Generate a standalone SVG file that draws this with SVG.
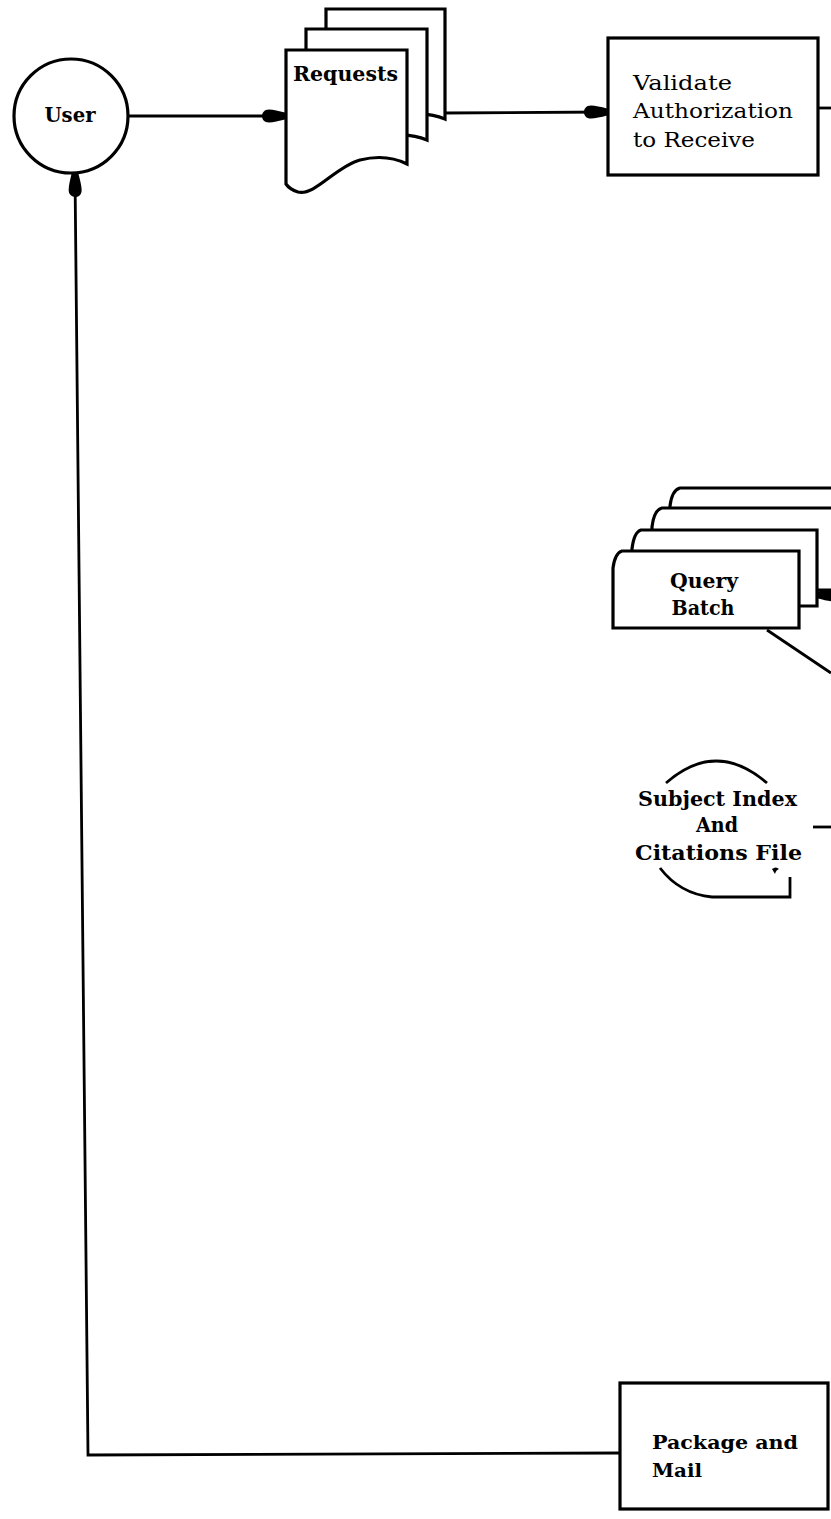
<svg xmlns="http://www.w3.org/2000/svg" width="831" height="1519" viewBox="0 0 831 1519">
<style>
.ln{fill:none;stroke:#000;stroke-width:2.8;stroke-linejoin:miter}
.bx{fill:#fff;stroke:#000;stroke-width:3.2}
.b{font-family:"DejaVu Serif","Liberation Serif",serif;font-weight:bold;font-size:20px;fill:#000}
.r{font-family:"DejaVu Serif","Liberation Serif",serif;font-size:20px;fill:#000}
</style>
<defs>
<marker id="arr" markerUnits="userSpaceOnUse" markerWidth="30" markerHeight="20" refX="0" refY="0" orient="auto-start-reverse" overflow="visible">
<path d="M0,-3.5 L0,3.5 C-6,5 -12,6.5 -16,6.5 C-21,6.5 -23,3 -23,0 C-23,-3 -21,-6.5 -16,-6.5 C-12,-6.5 -6,-5 0,-3.5 Z" fill="#000"/>
</marker>
</defs>
<rect width="831" height="1519" fill="#fff"/>
<g id="connectors">
<path class="ln" d="M128,116 L285,116" marker-end="url(#arr)"/>
<path class="ln" d="M445,113 L607,112" marker-end="url(#arr)"/>
<path class="ln" d="M818,108 L831,108"/>
<path class="ln" d="M831,595 L818,595" marker-end="url(#arr)"/>
<path class="ln" d="M767,630 L831,673"/>
<path class="ln" d="M813,827 L831,827"/>
<path class="ln" d="M75,174 L88,1455 L620,1453" marker-start="url(#arr)"/>
</g>
<g id="user">
<circle class="bx" cx="71" cy="116" r="57"/>
<text class="b" x="70" y="122" text-anchor="middle" textLength="51" lengthAdjust="spacingAndGlyphs">User</text>
</g>
<g id="requests">
<path class="bx" d="M326,9 H445 V119 C433,114 418,112 400,117 C375,124 355,153 338,150 C332,149 328,146 326,142 Z"/>
<path class="bx" d="M306,29 H427 V140 C415,135 400,133 380,138 C355,145 335,174 318,171 C312,170 308,167 306,163 Z"/>
<path class="bx" d="M286,50 H407 V164 C395,158 380,155 360,160 C335,167 315,196 298,192 C292,190 288,187 286,184 Z"/>
<text class="b" x="293" y="81" textLength="105" lengthAdjust="spacingAndGlyphs">Requests</text>
</g>
<g id="validate">
<rect class="bx" x="608" y="38" width="210" height="137"/>
<text class="r" x="633" y="90" textLength="99" lengthAdjust="spacingAndGlyphs">Validate</text>
<text class="r" x="633" y="118" textLength="160" lengthAdjust="spacingAndGlyphs">Authorization</text>
<text class="r" x="633" y="147" textLength="122" lengthAdjust="spacingAndGlyphs">to Receive</text>
</g>
<g id="query-batch">
<path class="bx" d="M670,570 L670,506 Q672,490 680,488 L845,488 L845,570 Z"/>
<path class="bx" d="M652,590 L652,527 Q654,510 662,508 L845,508 L845,590 Z"/>
<path class="bx" d="M632,606 L632,549 Q634,532 641,530 L817,530 L817,606 Z"/>
<path class="bx" d="M613,628 L613,568 Q615,553 622,551 L799,551 L799,628 Z"/>
<text class="b" x="704" y="588" text-anchor="middle" textLength="68" lengthAdjust="spacingAndGlyphs">Query</text>
<text class="b" x="703" y="615" text-anchor="middle" textLength="63" lengthAdjust="spacingAndGlyphs">Batch</text>
</g>
<g id="subject-index">
<path class="ln" d="M666,783 Q716,739 767,783"/>
<path class="ln" d="M660,868 Q680,894 712,897 L790,897 L790,877"/>
<path d="M772,869 q4,-3 7,0 q-3,1 -4,5 z" fill="#000"/>
<text class="b" x="717.5" y="806" text-anchor="middle" textLength="159" lengthAdjust="spacingAndGlyphs">Subject Index</text>
<text class="b" x="717" y="832" text-anchor="middle" textLength="42" lengthAdjust="spacingAndGlyphs">And</text>
<text class="b" x="718.5" y="860" text-anchor="middle" textLength="167" lengthAdjust="spacingAndGlyphs">Citations File</text>
</g>
<g id="package-mail">
<rect class="bx" x="620" y="1383" width="208" height="126"/>
<text class="b" x="652" y="1449" style="font-size:18px" textLength="146" lengthAdjust="spacingAndGlyphs">Package and</text>
<text class="b" x="652" y="1477" style="font-size:18px" textLength="50" lengthAdjust="spacingAndGlyphs">Mail</text>
</g>
</svg>
